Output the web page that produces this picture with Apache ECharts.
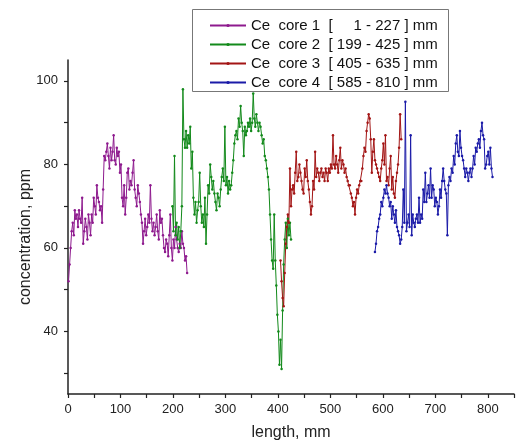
<!DOCTYPE html>
<html>
<head>
<meta charset="utf-8">
<script src="https://cdn.jsdelivr.net/npm/echarts@6/dist/echarts.min.js"></script>
<style>html,body{margin:0;padding:0;background:#fff}#c{width:525px;height:448px}</style>
</head>
<body>
<div id="c"></div>
<script>
// sampling grid (mm)
const sampleStep = 2;
const core1Start = 1, core2Start = 199, core3Start = 405, core4Start = 585;

const seriesNames = [
  'Ce  core 1  [     1 - 227 ] mm',
  'Ce  core 2  [ 199 - 425 ] mm',
  'Ce  core 3  [ 405 - 635 ] mm',
  'Ce  core 4  [ 585 - 810 ] mm'
];

// concentration, ppm
const core1 = [52,56,60,64,66,63,69,67,68,65,69,67,66,72,61,64,67,65,62,68,66,63,68,66,72,70,68,75,72,71,69,70,66,74,82,81,83,85,82,79,84,81,83,87,81,80,84,82,83,78,80,72,70,75,68,72,78,79,74,76,75,78,81,74,72,70,75,73,71,68,66,61,64,67,63,65,68,66,75,67,64,66,63,65,68,64,62,69,66,67,63,60,59,62,61,58,63,68,60,57,62,60,65,62,60,59,61,60,64,61,60,57,58,54];
const core2 = [70,64,82,63,66,62,65,60,64,70,98,86,84,88,84,87,85,89,79,83,72,68,71,66,69,71,78,70,66,68,65,72,61,68,75,73,80,77,74,76,73,71,69,73,72,70,74,77,79,76,89,75,77,73,76,74,75,78,81,85,87,88,86,91,89,94,90,88,82,89,87,88,90,89,91,88,90,97,91,89,92,90,88,90,89,87,85,86,82,81,79,77,74,68,62,57,55,68,57,51,44,40,32,38,31,45,56,62,66,60,67,63,66,62];
const core3 = [57,52,48,46,54,61,65,68,66,79,70,74,75,73,78,83,76,77,80,78,76,74,73,79,77,81,76,74,71,68,70,76,74,83,77,79,78,76,78,79,77,78,76,79,78,76,79,78,80,79,87,80,79,82,80,78,81,84,79,81,80,78,79,77,76,75,75,73,72,70,71,68,72,74,73,75,76,76,79,82,84,83,88,90,92,91,86,78,83,86,81,80,79,78,77,76,79,81,85,80,87,76,77,75,79,82,74,77,73,72,76,78,80,84,92,86];
const core4 = [59,61,64,65,67,68,71,70,72,74,73,75,73,72,70,71,67,70,68,66,69,65,64,63,61,62,65,74,66,95,64,66,68,65,87,63,68,66,65,67,68,66,72,66,68,67,74,71,78,71,73,75,72,79,72,75,74,70,72,71,68,70,74,72,76,79,76,74,73,63,75,77,76,79,78,82,80,85,87,83,82,88,84,82,81,79,77,79,78,76,78,79,77,79,82,80,84,83,85,86,84,88,90,87,86,79,80,82,83,80,84,79,77];

const seriesColors = ['#8E1A8E', '#138A1B', '#A31515', '#1B1BA8'];

const xTicks = [0,100,200,300,400,500,600,700,800];
const yLabels = [40,60,80,100];
const yTicks = [30,40,50,60,70,80,90,100];

function pairs(start, vals){ return vals.map((v,i)=>[start + i*sampleStep, v]); }
const allData = [pairs(core1Start, core1), pairs(core2Start, core2), pairs(core3Start, core3), pairs(core4Start, core4)];

const FONT = '"Liberation Sans", Arial, sans-serif';
const chart = echarts.init(document.getElementById('c'), null, {renderer:'canvas'});
chart.setOption({
  animation: false,
  backgroundColor: '#fff',
  grid: {left: 68, right: 11, top: 60, bottom: 54},
  legend: {
    orient: 'vertical', left: 209, top: 18, padding: 0,
    itemWidth: 36, itemHeight: 4, itemGap: 4,
    textStyle: {fontSize: 15, color: '#111', fontFamily: FONT},
    data: seriesNames
  },
  graphic: [
    {type:'rect', shape:{x:192.5, y:9.5, width:256, height:82}, style:{fill:'none', stroke:'#777', lineWidth:1}, z:10},
    {type:'text', x: 26, y: 237, rotation: Math.PI/2,
     style:{text:'concentration, ppm', font:'16px ' + FONT, fill:'#222', align:'center', verticalAlign:'middle'}}
  ],
  xAxis: {
    type: 'value', min: 0, max: 850, interval: 50,
    name: 'length, mm', nameLocation: 'middle', nameGap: 31,
    nameTextStyle: {fontSize: 16, color: '#222', fontFamily: FONT},
    axisLine: {lineStyle: {color: '#222', width: 1.5}},
    axisTick: {show: true, length: 4, lineStyle: {color: '#222', width: 1.2}},
    axisLabel: {fontSize: 13, color: '#222', fontFamily: FONT, margin: 9,
      formatter: v => xTicks.includes(v) ? String(v) : ''},
    splitLine: {show: false}
  },
  yAxis: {
    type: 'value', min: 25, max: 105,
    axisLine: {show: true, lineStyle: {color: '#222', width: 1.5}},
    axisTick: {show: true, length: 4, customValues: yTicks, lineStyle: {color: '#222', width: 1.2}},
    axisLabel: {fontSize: 13, color: '#222', fontFamily: FONT, margin: 10, customValues: yLabels},
    splitLine: {show: false}
  },
  series: allData.map((d, i) => ({
    name: seriesNames[i], type: 'line', data: d,
    color: seriesColors[i],
    symbol: 'circle', symbolSize: 2.5, showSymbol: true,
    lineStyle: {width: 1, color: seriesColors[i]},
    itemStyle: {color: seriesColors[i]},
    emphasis: {disabled: true}
  }))
});
</script>
</body>
</html>
